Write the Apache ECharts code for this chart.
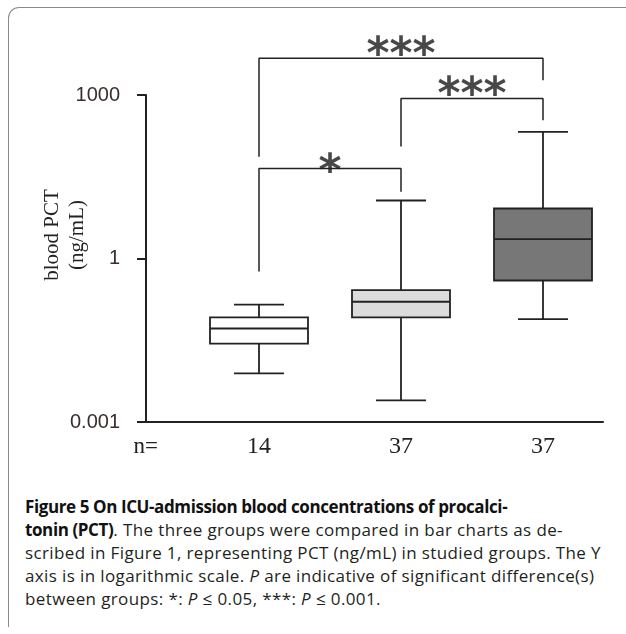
<!DOCTYPE html>
<html>
<head>
<meta charset="utf-8">
<script src="https://cdn.jsdelivr.net/npm/echarts@6/dist/echarts.min.js"></script>
<style>
  html, body { margin: 0; padding: 0; background: #fff; }
  .frame { position: absolute; left: 8px; top: 7px; width: 700px; height: 619px;
    border-left: 1.5px solid #8a8a8a; border-top: 1.5px solid #8a8a8a; border-top-left-radius: 11px; }
  #chart { position: absolute; left: 0; top: 0; width: 626px; height: 480px; }
  .caption { position: absolute; left: 25px; top: 495px; font-family: "Open Sans", sans-serif;
    font-size: 17px; letter-spacing: 0.38px; line-height: 23px; color: #231f20; white-space: nowrap; }
  .caption b { color: #111; letter-spacing: -0.4px; }
</style>
</head>
<body>
<div class="frame"></div>
<div id="chart"></div>
<div class="caption"><b>Figure 5 On ICU-admission blood concentrations of procalci-<br>tonin (PCT)</b>. The three groups were compared in bar charts as de-<br>scribed in Figure 1, representing PCT (ng/mL) in studied groups. The Y<br>axis is in logarithmic scale. <i>P</i> are indicative of significant difference(s)<br>between groups: *: <i>P</i> ≤ 0.05, ***: <i>P</i> ≤ 0.001.</div>
<script>
// groups and their n
const groups = ['Group 1', 'Group 2', 'Group 3']
const nCounts = ['14', '37', '37']
// [min, Q1, median, Q3, max] in ng/mL
const boxStats = [
  [0.0078, 0.0275, 0.052, 0.083, 0.143],
  [0.0025, 0.083, 0.161, 0.262, 11.6],
  [0.077, 0.395, 2.26, 8.27, 211]
]
const boxFills = ['#ffffff', '#dcdcdc', '#777777']

// significance brackets: from group, to group, height, leg ends, mark
const bracketFrom = [0, 1, 0]
const bracketTo = [2, 2, 1]
const bracketTop = [4700, 860, 45]
const bracketLegFrom = [74, 113, 0.58]
const bracketLegTo = [1870, 345, 16.7]
const bracketMarks = ['***', '***', '*']
const markLift = [-2, -2, 5]   // label nudge relative to its bracket, px

const INK = '#222'
const chart = echarts.init(document.getElementById('chart'))

const bracketSeries = bracketMarks.map((m, i) => ({
  type: 'line', xAxisIndex: 2, yAxisIndex: 1, symbol: 'none', clip: false, silent: true,
  lineStyle: { color: INK, width: 1.5 },
  data: [[bracketFrom[i], bracketLegFrom[i]], [bracketFrom[i], bracketTop[i]],
         [bracketTo[i], bracketTop[i]], [bracketTo[i], bracketLegTo[i]]]
}))

const markSeries = {
  type: 'scatter', xAxisIndex: 2, yAxisIndex: 1, symbolSize: 0, clip: false, silent: true,
  data: bracketMarks.map((m, i) => ({
    value: [(bracketFrom[i] + bracketTo[i]) / 2, bracketTop[i]],
    label: { offset: [0, markLift[i]] }
  })),
  label: {
    show: true, position: 'inside',
    formatter: p => bracketMarks[p.dataIndex],
    fontFamily: 'DejaVu Sans', fontSize: 44, fontWeight: 'bold', color: '#1a1a1a'
  }
}

const boxSeries = {
  type: 'custom', xAxisIndex: 1, yAxisIndex: 1, clip: false,
  encode: { x: 0, y: [1, 2, 3, 4, 5] },
  data: boxStats.map((s, i) => [i, ...s]),
  renderItem(params, api) {
    const i = api.value(0)
    const x = api.coord([i, api.value(1)])[0]
    const yMin = api.coord([i, api.value(1)])[1]
    const yQ1 = api.coord([i, api.value(2)])[1]
    const yMed = api.coord([i, api.value(3)])[1]
    const yQ3 = api.coord([i, api.value(4)])[1]
    const yMax = api.coord([i, api.value(5)])[1]
    const half = 49, cap = 25
    const ln = { stroke: INK, lineWidth: 1.8 }
    return {
      type: 'group',
      children: [
        { type: 'line', shape: { x1: x, y1: yMax, x2: x, y2: yQ3 }, style: ln },
        { type: 'line', shape: { x1: x, y1: yQ1, x2: x, y2: yMin }, style: ln },
        { type: 'line', shape: { x1: x - cap, y1: yMax, x2: x + cap, y2: yMax }, style: ln },
        { type: 'line', shape: { x1: x - cap, y1: yMin, x2: x + cap, y2: yMin }, style: ln },
        { type: 'rect', shape: { x: x - half, y: yQ3, width: half * 2, height: yQ1 - yQ3 },
          style: { fill: boxFills[params.dataIndex], stroke: INK, lineWidth: 1.8 } },
        { type: 'line', shape: { x1: x - half, y1: yMed, x2: x + half, y2: yMed }, style: ln }
      ]
    }
  }
}

chart.setOption({
  animation: false,
  grid: [
    { left: 146, right: 23, top: 95, bottom: 58 },
    { left: 188, right: 12, top: 40.5, bottom: 58 }
  ],
  xAxis: [
    { gridIndex: 0, type: 'value', min: 0, max: 1,
      axisLine: { lineStyle: { color: INK, width: 2 } }, axisTick: { show: false },
      axisLabel: { show: false }, splitLine: { show: false },
      name: 'n=', nameLocation: 'start', nameGap: -12, nameMoveOverlap: false,
      nameTextStyle: { fontFamily: 'Liberation Serif', fontSize: 23, color: INK,
        align: 'right', verticalAlign: 'top', padding: [13, 0, 0, 0] } },
    { gridIndex: 1, type: 'category', data: groups,
      axisLine: { show: false }, axisTick: { show: false }, splitLine: { show: false },
      axisLabel: { formatter: (v, i) => nCounts[i], margin: 13,
        fontFamily: 'Liberation Serif', fontSize: 24, color: INK } },
    { gridIndex: 1, type: 'value', min: -0.5, max: 2.5, show: false }
  ],
  yAxis: [
    { gridIndex: 0, type: 'log', logBase: 1000, min: 0.001, max: 1000,
      axisLine: { show: true, lineStyle: { color: INK, width: 2 } },
      axisTick: { show: true, length: 9, lineStyle: { color: INK, width: 2 } },
      splitLine: { show: false },
      axisLabel: { margin: 26, formatter: v => String(+v.toPrecision(3)),
        fontFamily: 'Liberation Sans', fontSize: 20, color: '#3b2d2d' },
      name: 'blood PCT\n(ng/mL)', nameLocation: 'middle', nameRotate: 90, nameGap: 56,
      nameMoveOverlap: false,
      nameTextStyle: { fontFamily: 'Liberation Serif', fontSize: 21, lineHeight: 25,
        color: INK, padding: [0, 0, 0, 47] } },
    { gridIndex: 1, type: 'log', logBase: 10, min: 0.001, max: 10000, show: false }
  ],
  series: [boxSeries, ...bracketSeries, markSeries]
})
</script>
</body>
</html>
